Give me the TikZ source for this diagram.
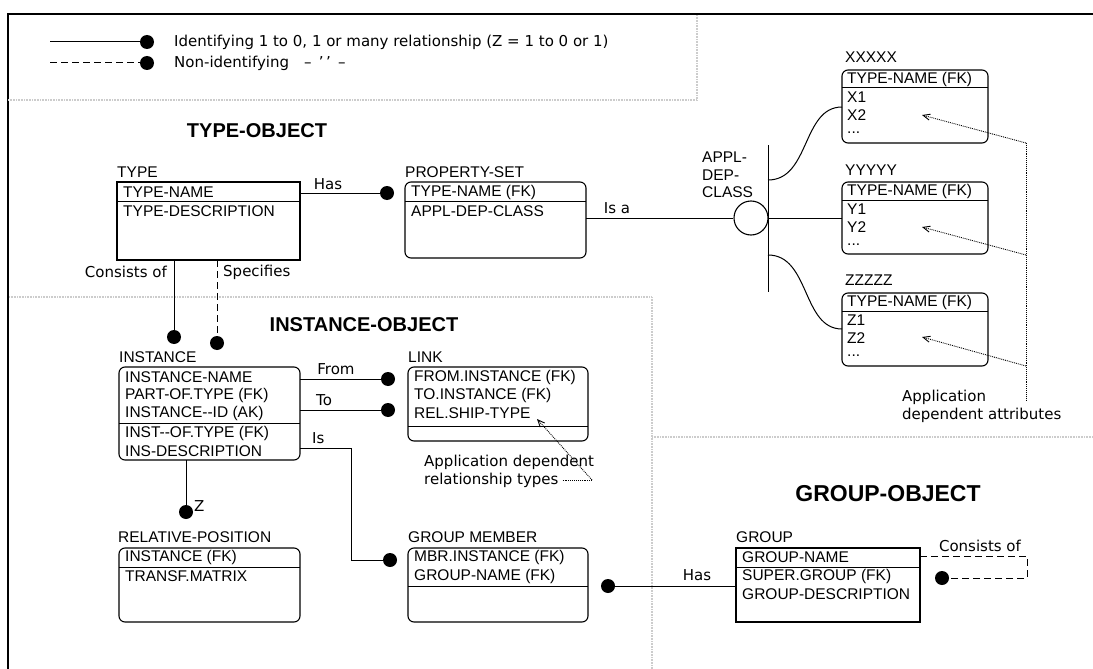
\documentclass[tikz,border=0pt]{standalone}
\usepackage{fontspec}
\setmainfont{Liberation Sans}
\newfontfamily\lblfont[Ligatures=TeX]{DejaVu Sans}
\usetikzlibrary{arrows.meta,calc}
\begin{document}
\begin{tikzpicture}[x=1pt,y=-1pt,
  indep/.style={draw, line width=1.1pt, anchor=north west, inner sep=0pt, outer sep=0pt},
  dep/.style={indep, rounded corners=6pt},
  row/.style={anchor=west, inner sep=0pt, font=\fontsize{15.5}{16}\selectfont},
  ttl/.style={anchor=west, inner sep=0pt, font=\fontsize{15.5}{16}\selectfont},
  lbl/.style={inner sep=0pt, font=\lblfont\fontsize{15}{18}\selectfont},
  leg/.style={inner sep=0pt, anchor=west, font=\lblfont\fontsize{15}{18}\selectfont},
  head/.style={inner sep=0pt, font=\fontsize{20}{22}\selectfont\bfseries},
  dot/.style={circle, fill, inner sep=0pt, minimum size=14pt},
  conn/.style={line width=1pt},
  dsh/.style={line width=1pt, dash pattern=on 7pt off 4pt},
  sep/.style={draw=gray!40, line width=2pt, dash pattern=on 1pt off 0.6pt},
  ptrline/.style={densely dotted, line width=0.9pt},
  ptr/.style={densely dotted, line width=0.9pt, -{Straight Barb[length=7pt,width=6pt]}}
]
\useasboundingbox (0,0) rectangle (1093,669);

% frame and separators
\draw[line width=1.1pt] (8,669) -- (8,14) -- (1093,14);
\draw[sep] (8,100) -- (697,100);
\draw[sep] (697,15) -- (697,100);
\draw[sep] (9,297) -- (652,297);
\draw[sep] (652,297) -- (652,669);
\draw[sep] (652,437) -- (1093,437);

% legend
\coordinate (lg1) at (50,42);
\coordinate (lg2) at (50,63);
\node[dot] (ld1) at (147,42) {};
\node[dot] (ld2) at (147,63) {};
\draw[conn] (lg1) -- (ld1);
\draw[dsh] (lg2) -- (ld2);
\node[leg] (lt1) at (174,42) {Identifying 1 to 0, 1 or many relationship (Z = 1 to 0 or 1)};
\node[leg] (lt2) at (174,63) {Non-identifying\quad -- \,'\,'\, --};

% headings
\node[head] (h1) at (257,131) {TYPE-OBJECT};
\node[head] (h2) at (364,325) {INSTANCE-OBJECT};
\node[head, font=\fontsize{23}{25}\selectfont\bfseries] (h3) at (888,494) {GROUP-OBJECT};

% TYPE
\node[ttl] (typeT) at (117,172) {TYPE};
\node[indep, minimum width=183pt, minimum height=78pt] (type) at (117,182) {};
\draw[conn] ($(type.north west)+(0,19)$) -- +(183,0);
\node[row] (type1) at (123,192) {TYPE-NAME};
\node[row] (type2) at (123,211) {TYPE-DESCRIPTION};

% PROPERTY-SET
\node[ttl] (psT) at (405,172) {PROPERTY-SET};
\node[dep, minimum width=181pt, minimum height=76pt] (ps) at (405,182) {};
\draw[conn] ($(ps.north west)+(0,19)$) -- +(181,0);
\node[row] (ps1) at (411,192) {TYPE-NAME (FK)};
\node[row] (ps2) at (411,211) {APPL-DEP-CLASS};

% XXXXX
\node[ttl] (xxT) at (845,57) {XXXXX};
\node[dep, minimum width=146pt, minimum height=73pt] (xx) at (842,70) {};
\draw[conn] ($(xx.north west)+(0,18)$) -- +(146,0);
\node[row] (xx1) at (847,79) {TYPE-NAME (FK)};
\node[row] (xx2) at (847,97) {X1};
\node[row] (xx3) at (847,115) {X2};
\node[row] (xx4) at (847,133) {...};

% YYYYY
\node[ttl] (yyT) at (845,170) {YYYYY};
\node[dep, minimum width=146pt, minimum height=72pt] (yy) at (842,182) {};
\draw[conn] ($(yy.north west)+(0,18)$) -- +(146,0);
\node[row] (yy1) at (847,191) {TYPE-NAME (FK)};
\node[row] (yy2) at (847,209) {Y1};
\node[row] (yy3) at (847,227) {Y2};
\node[row] (yy4) at (847,245) {...};

% ZZZZZ
\node[ttl] (zzT) at (845,280) {ZZZZZ};
\node[dep, minimum width=146pt, minimum height=73pt] (zz) at (842,293) {};
\draw[conn] ($(zz.north west)+(0,18)$) -- +(146,0);
\node[row] (zz1) at (847,302) {TYPE-NAME (FK)};
\node[row] (zz2) at (847,320) {Z1};
\node[row] (zz3) at (847,338) {Z2};
\node[row] (zz4) at (847,356) {...};

% subtype symbol
\node[anchor=west, align=left, inner sep=0pt, font=\fontsize{15.5}{17.5}\selectfont] (adc) at (702,175) {APPL-\\DEP-\\CLASS};
\node[draw, circle, line width=1.1pt, minimum size=34pt, inner sep=0pt] (circ) at (751,218) {};
\coordinate (barT) at (768,145);
\coordinate (barB) at (768,292);
\draw[conn] (barT) -- (barB);
\draw[conn] (ps.east |- circ) -- (circ.west);
\node[lbl, anchor=south] (isa) at (617,214) {Is a};
\draw[conn] (barT |- circ) -- (yy.west |- circ);
\coordinate (bx) at (768,180);
\coordinate (xin) at (842,107);
\coordinate (bz) at (768,255);
\coordinate (zin) at (842,329);
\draw[conn] (bx) .. controls +(42,0) and +(-40,0) .. (xin);
\draw[conn] (bz) .. controls +(42,0) and +(-40,0) .. (zin);

% application dependent attributes pointers
\coordinate (pv1) at (1026,143);
\coordinate (pv2) at (1026,255);
\coordinate (pv3) at (1026,366);
\coordinate (pvb) at (1026,400);
\coordinate (px) at (922,115);
\coordinate (py) at (922,227);
\coordinate (pz) at (922,337);
\draw[ptrline] (pv1) -- (pvb);
\draw[ptr] (pv1) -- (px);
\draw[ptr] (pv2) -- (py);
\draw[ptr] (pv3) -- (pz);
\node[lbl, anchor=west, align=left] (appattr) at (902,406) {Application\\dependent attributes};

% TYPE - PROPERTY-SET
\node[dot] (dhas1) at (387,193) {};
\draw[conn] (type.east |- dhas1) -- (dhas1);
\node[lbl, anchor=south] (has1) at (328,190) {Has};

% TYPE - INSTANCE
\node[dot] (dcons) at (174,337) {};
\node[dot] (dspec) at (217,343) {};
\draw[conn] (type.south -| dcons) -- (dcons);
\draw[dsh] (type.south -| dspec) -- (dspec);
\node[lbl, anchor=east] (consL) at (167,272) {Consists of};
\node[lbl, anchor=west] (specL) at (223,272) {Specifies};

% INSTANCE
\node[ttl] (instT) at (119,357) {INSTANCE};
\node[dep, minimum width=181pt, minimum height=93pt] (inst) at (119,367) {};
\draw[conn] ($(inst.north west)+(0,56)$) -- +(181,0);
\node[row] (inst1) at (125,377) {INSTANCE-NAME};
\node[row] (inst2) at (125,395) {PART-OF.TYPE (FK)};
\node[row] (inst3) at (125,413) {INSTANCE-{}-ID (AK)};
\node[row] (inst4) at (125,433) {INST-{}-OF.TYPE (FK)};
\node[row] (inst5) at (125,451) {INS-DESCRIPTION};

% LINK
\node[ttl] (linkT) at (408,357) {LINK};
\node[dep, minimum width=180pt, minimum height=74pt] (link) at (408,367) {};
\draw[conn] ($(link.north west)+(0,59)$) -- +(180,0);
\node[row] (link1) at (414,377) {FROM.INSTANCE (FK)};
\node[row] (link2) at (414,395) {TO.INSTANCE (FK)};
\node[row] (link3) at (414,413) {REL.SHIP-TYPE};

\node[dot] (dfrom) at (388,379) {};
\node[dot] (dto) at (388,410) {};
\draw[conn] (inst.east |- dfrom) -- (dfrom);
\draw[conn] (inst.east |- dto) -- (dto);
\node[lbl, anchor=south] (fromL) at (336,375) {From};
\node[lbl, anchor=south west] (toL) at (316,406) {To};

% relationship types note
\node[lbl, anchor=west] (relapp1) at (424,462) {Application dependent};
\node[lbl, anchor=west] (relapp2) at (424,480) {relationship types};
\coordinate (rtB) at (592,480);
\coordinate (rtC) at (537,419);
\draw[ptrline] ([xshift=4pt]relapp2.east) -- (rtB);
\draw[ptr] (rtB) -- (rtC);

% RELATIVE-POSITION
\node[dot] (dz) at (186,512) {};
\draw[conn] (inst.south -| dz) -- (dz);
\node[lbl, anchor=west] (zL) at (194,506) {Z};
\node[ttl] (relT) at (118,537) {RELATIVE-POSITION};
\node[dep, minimum width=181pt, minimum height=74pt] (rel) at (119,548) {};
\draw[conn] ($(rel.north west)+(0,19)$) -- +(181,0);
\node[row] (rel1) at (125,557) {INSTANCE (FK)};
\node[row] (rel2) at (125,576) {TRANSF.MATRIX};

% GROUP MEMBER
\node[dot] (dis) at (390,560) {};
\coordinate (isc) at (351,448);
\draw[conn] (inst.east |- isc) -- (isc) |- (dis);
\node[lbl, anchor=south west] (isL) at (312,444) {Is};
\node[ttl] (gmT) at (408,537) {GROUP MEMBER};
\node[dep, minimum width=180pt, minimum height=74pt] (gm) at (408,548) {};
\draw[conn] ($(gm.north west)+(0,38)$) -- +(180,0);
\node[row] (gm1) at (414,557) {MBR.INSTANCE (FK)};
\node[row] (gm2) at (414,576) {GROUP-NAME (FK)};

% GROUP
\node[ttl] (grT) at (736,537) {GROUP};
\node[indep, minimum width=184pt, minimum height=74pt] (gr) at (736,548) {};
\draw[conn] ($(gr.north west)+(0,19)$) -- +(184,0);
\node[row] (gr1) at (742,557) {GROUP-NAME};
\node[row] (gr2) at (742,576) {SUPER.GROUP (FK)};
\node[row] (gr3) at (742,594) {GROUP-DESCRIPTION};

\node[dot] (dhas2) at (608,586) {};
\draw[conn] (dhas2) -- (gr.west |- dhas2);
\node[lbl, anchor=south] (has2L) at (697,581) {Has};

\node[dot] (dgc) at (942,578) {};
\coordinate (gc1) at (1027,556);
\draw[dsh] (gr.east |- gc1) -- (gc1) |- (dgc);
\node[lbl, anchor=south] (gcL) at (980,552) {Consists of};

\end{tikzpicture}
\end{document}
